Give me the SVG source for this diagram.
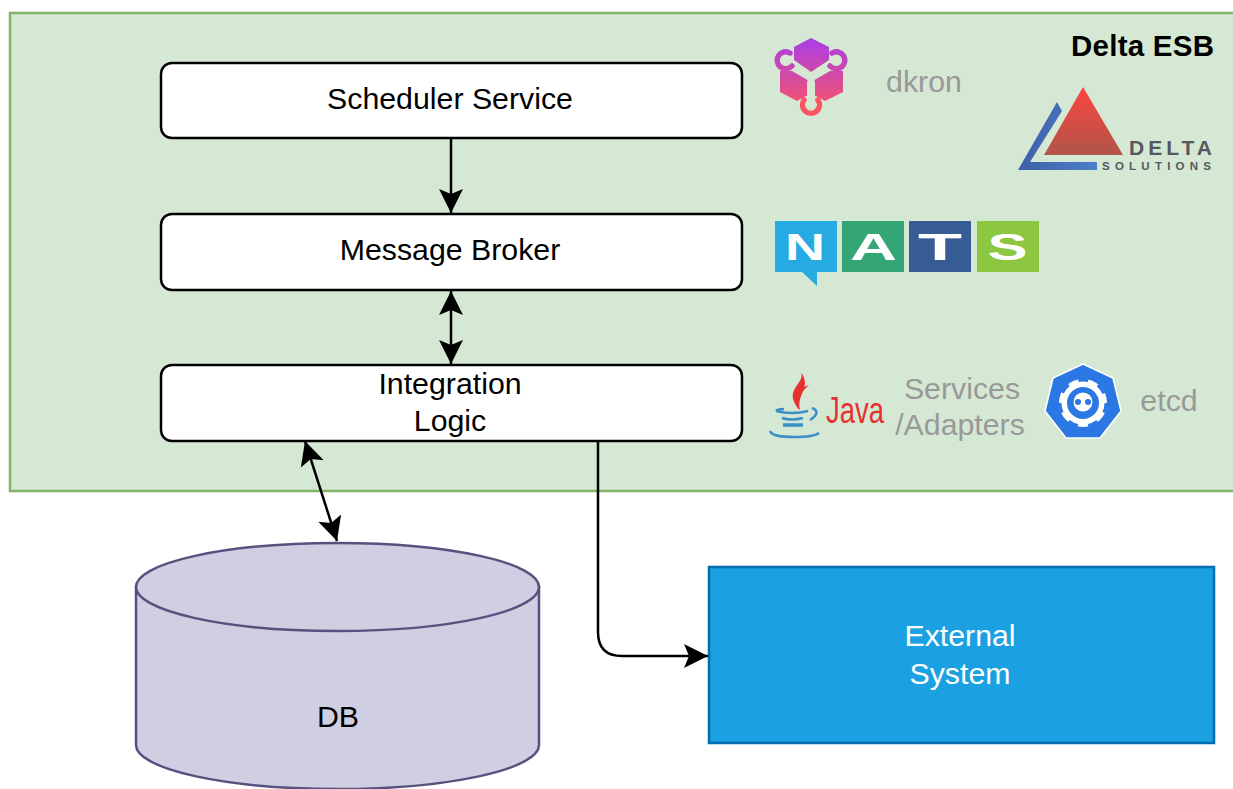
<svg xmlns="http://www.w3.org/2000/svg" width="1233" height="789" viewBox="0 0 1233 789">
<style>
text{font-family:"Liberation Sans",Arial,sans-serif}
.box{fill:#fff;stroke:#000;stroke-width:2.5}
.lab{font-size:30.300px;fill:#000;text-anchor:middle}
.gray{font-size:30.300px;fill:#999;text-anchor:middle}
.wire{fill:none;stroke:#000;stroke-width:2.5}
.ni{font-size:36px;font-weight:700;fill:#fff;text-anchor:middle}
.cut{fill:none;stroke:#d5e8d4;stroke-linecap:round}
.hook{fill:none;stroke-width:5.500;stroke-linecap:round}
</style>
<defs>
<marker id="end" markerUnits="userSpaceOnUse" markerWidth="26" markerHeight="26" refX="24" refY="13" orient="auto-start-reverse" viewBox="0 0 26 26"><path d="M0 1 L24 13 L0 25 L5 13 Z" fill="#000"/></marker>
<linearGradient id="dk" gradientUnits="userSpaceOnUse" x1="0" y1="38" x2="0" y2="112"><stop offset="0" stop-color="#a83ee8"/><stop offset="1" stop-color="#fb5563"/></linearGradient>
<linearGradient id="dr" x1="0" y1="0" x2="0" y2="1"><stop offset="0" stop-color="#fb4540"/><stop offset="1" stop-color="#b05548"/></linearGradient>
<linearGradient id="db" x1="0" y1="0" x2="1" y2="0"><stop offset="0" stop-color="#3f5ea8"/><stop offset="1" stop-color="#4a80c8"/></linearGradient>
</defs>

<g id="delta-esb">
<rect x="10" y="13" width="1240" height="478" fill="#d5e8d4" stroke="#82b366" stroke-width="2.5"/>
<text x="1214" y="56" font-size="29.500" font-weight="700" text-anchor="end" fill="#000" textLength="143">Delta ESB</text>
</g>

<g id="dkron-logo">
<path d="M794 47 L811 38 L829 47 L829 60 L811 72 L794 60 Z" fill="url(#dk)"/>
<path d="M780 71 L792 71 L811 82 L830 71 L843 71 L843 92 L825 101 L816 96 H806 L797 101 L780 92 Z" fill="url(#dk)"/>
<path class="cut" stroke-width="8" d="M811 83 V99"/>
<path class="cut" stroke-width="5" d="M793 64 L805 71 M830 64 L818 71"/>
<path class="hook" stroke="url(#dk)" d="M790 53 A8.500 8.500 0 1 0 792 66"/>
<path class="hook" stroke="url(#dk)" d="M832 53 A8.500 8.500 0 1 1 830 66"/>
<path class="hook" stroke="#fb5563" d="M804 100 A8.500 8.500 0 1 0 818 100"/>
<text x="924" y="92" class="gray">dkron</text>
</g>

<g id="delta-solutions-logo">
<path d="M1083 87 L1123 155 L1044 155 Z" fill="url(#dr)"/>
<path d="M1057 102 L1062 111 L1030 162 L1097 162 L1097 170 L1018 170 Z" fill="url(#db)"/>
<text x="1129" y="155" font-size="21" font-weight="700" fill="#55585f" textLength="83">DELTA</text>
<text x="1102" y="170" font-size="11.500" font-weight="700" fill="#55585f" textLength="109">SOLUTIONS</text>
</g>

<g id="nats-logo">
<path d="M775 221 H837 V272 H817 V286 L802 272 H775 Z" fill="#27aae1"/>
<rect x="842" y="221" width="62" height="51" fill="#34a574"/>
<rect x="909" y="221" width="62" height="51" fill="#375c93"/>
<rect x="977" y="221" width="62" height="51" fill="#8dc63f"/>
<text x="805" y="260" class="ni" textLength="40" lengthAdjust="spacingAndGlyphs">N</text>
<text x="873.500" y="260" class="ni" textLength="47" lengthAdjust="spacingAndGlyphs">A</text>
<text x="940" y="260" class="ni" textLength="44" lengthAdjust="spacingAndGlyphs">T</text>
<text x="1007.500" y="260" class="ni" textLength="40" lengthAdjust="spacingAndGlyphs">S</text>
</g>

<g id="java-logo">
<path d="M801 372 C806 384 781 390 800 410 C796 394 812 388 801 372 Z" fill="#e8312f"/>
<path d="M809 385 C792 391 791 398 799 410 C798 398 800 393 809 385 Z" fill="#e8312f"/>
<g fill="none" stroke="#3a8fc8" stroke-width="2.500">
<path d="M776 411 Q792 415 808 411 M776 411 Q778 409 784 409"/>
<path d="M812 408 Q822 412 810 420"/>
<path d="M782 418 Q792 421 803 418"/>
<path d="M783 425 H803" stroke-width="3.500"/>
<path d="M770 431 Q772 437 794 437 Q814 437 819 433"/>
</g>
<text x="826" y="423" font-size="36" fill="#e8312f" textLength="58" lengthAdjust="spacingAndGlyphs">Java</text>
</g>

<g id="services-label">
<text x="962" y="399" class="gray">Services</text>
<text x="960" y="435" class="gray">/Adapters</text>
</g>

<g id="etcd-logo">
<path d="M1083 364 L1113 378 L1121 411 L1100 438 L1066 438 L1045 411 L1053 378 Z" fill="#2b78e4" stroke="#fff" stroke-width="1.500" stroke-linejoin="round"/>
<circle cx="1083" cy="403" r="20" fill="none" stroke="#fff" stroke-width="8"/>
<circle cx="1083" cy="403" r="23" fill="none" stroke="#2b78e4" stroke-width="3" stroke-dasharray="10 10.600"/>
<circle cx="1083" cy="402" r="9.500" fill="#fff"/>
<circle cx="1078" cy="402" r="3" fill="#2b78e4"/>
<circle cx="1088" cy="402" r="3" fill="#2b78e4"/>
<text x="1169" y="411" class="gray">etcd</text>
</g>

<g id="scheduler-service">
<rect class="box" x="161" y="63" width="581" height="75" rx="11"/>
<text class="lab" x="450" y="109">Scheduler Service</text>
</g>
<g id="message-broker">
<rect class="box" x="161" y="214" width="581" height="76" rx="11"/>
<text class="lab" x="450" y="260">Message Broker</text>
</g>
<g id="integration-logic">
<rect class="box" x="161" y="365" width="581" height="76" rx="11"/>
<text class="lab" x="450" y="394">Integration</text>
<text class="lab" x="450" y="431">Logic</text>
</g>

<g id="db">
<path d="M136 587 V745 A201.500 44 0 0 0 539 745 V587 Z" fill="#d0cee2" stroke="#56517e" stroke-width="2.500"/>
<ellipse cx="337.500" cy="587" rx="201.500" ry="44" fill="#d0cee2" stroke="#56517e" stroke-width="2.500"/>
<text class="lab" x="338" y="727">DB</text>
</g>

<g id="external-system">
<rect x="709" y="567" width="505" height="176" fill="#1ba1e2" stroke="#006eaf" stroke-width="2.500"/>
<text class="lab" x="960" y="646" style="fill:#fff">External</text>
<text class="lab" x="960" y="684" style="fill:#fff">System</text>
</g>

<g id="connectors">
<path class="wire" d="M451 139 V213" marker-end="url(#end)"/>
<path class="wire" d="M451 291 V364" marker-start="url(#end)" marker-end="url(#end)"/>
<path class="wire" d="M305 441 L337 541" marker-start="url(#end)" marker-end="url(#end)"/>
<path class="wire" d="M598 441 V632 Q598 656 622 656 H708" marker-end="url(#end)"/>
</g>
</svg>
